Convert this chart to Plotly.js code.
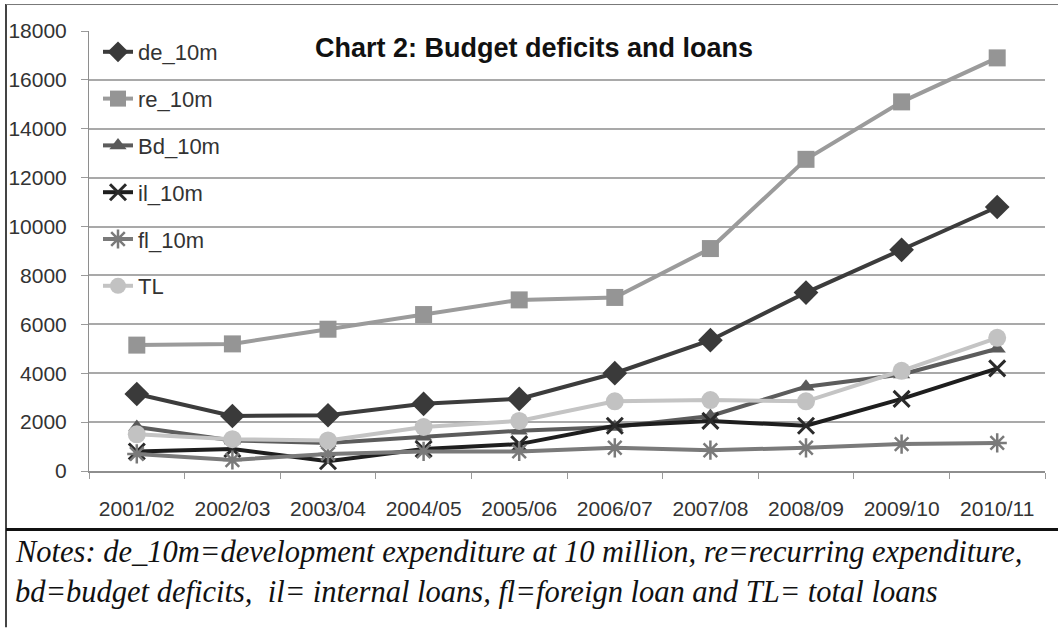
<!DOCTYPE html>
<html>
<head>
<meta charset="utf-8">
<script src="https://cdn.plot.ly/plotly-3.0.1.min.js"></script>
<style>html,body{margin:0;padding:0;background:#fff;}#chart{width:1058px;height:628px;}</style>
</head>
<body>
<div id="chart"></div>
<script>
const years = ["2001/02","2002/03","2003/04","2004/05","2005/06","2006/07","2007/08","2008/09","2009/10","2010/11"];
const de_10m = [3150, 2250, 2280, 2750, 2950, 4000, 5350, 7300, 9050, 10800];
const re_10m = [5150, 5200, 5800, 6400, 7000, 7100, 9100, 12750, 15100, 16900];
const bd_10m = [1800, 1250, 1150, 1400, 1650, 1800, 2250, 3450, 3950, 5000];
const il_10m = [800, 900, 400, 900, 1100, 1850, 2050, 1850, 2950, 4200];
const fl_10m = [700, 450, 700, 800, 800, 950, 850, 950, 1100, 1150];
const tl = [1500, 1300, 1250, 1800, 2050, 2850, 2900, 2850, 4100, 5450];
const seriesNames = ["de_10m","re_10m","Bd_10m","il_10m","fl_10m","TL"];

const W = 1058, H = 628;
const mL = 89, mR = 13, mT = 31, mB = 156.5;
const pw = W - mL - mR, ph = H - mT - mB;
const px = x => (x - mL) / pw;
const py = y => (H - mB - y) / ph;

const sans = "Liberation Sans, Arial, sans-serif";
const serif = "Liberation Serif, Times New Roman, serif";

function tr(name, y, color, symbol, msize, mcolor, mline, lw) {
  return {
    type: "scatter", mode: "lines+markers", x: years, y: y, name: name,
    legendgroup: name,
    line: {color: color, width: lw || 4},
    marker: {symbol: symbol, size: msize, color: mcolor || color,
             line: {color: mcolor || color, width: mline || 0}}
  };
}

const data = [
  tr(seriesNames[0], de_10m, "#3c3c3c", "diamond", 19, "#3a3a3a"),
  tr(seriesNames[1], re_10m, "#9b9b9b", "square", 17, "#959595"),
  tr(seriesNames[2], bd_10m, "#5c5c5c", "triangle-up", 15, "#5a5a5a"),
  tr(seriesNames[3], il_10m, "#1e1e1e", "x-thin-open", 16, "#2a2a2a", 3),
  tr(seriesNames[4], fl_10m, "#7a7a7a", "asterisk-open", 16, "#7a7a7a", 2.5),
  tr(seriesNames[5], tl, "#c4c4c4", "circle", 18, "#c2c2c2")
];

const layout = {
  width: W, height: H,
  margin: {l: mL, r: mR, t: mT, b: mB, pad: 0},
  paper_bgcolor: "#fff", plot_bgcolor: "#fff",
  font: {family: sans, color: "#333", size: 21},
  title: {
    text: "Chart 2: Budget deficits and loans",
    font: {family: sans, size: 27, color: "#111", weight: "bold"},
    x: 534 / W, xanchor: "center", xref: "container",
    y: 1 - 48 / H, yanchor: "middle", yref: "container"
  },
  showlegend: true,
  legend: {
    x: px(98), xanchor: "left", y: py(31), yanchor: "top",
    bgcolor: "rgba(0,0,0,0)", borderwidth: 0,
    font: {family: sans, size: 22, color: "#333"},
    tracegroupgap: 15.2, traceorder: "grouped", itemwidth: 30
  },
  xaxis: {
    type: "category", showgrid: false, zeroline: false,
    showline: true, linecolor: "#8e8e8e", linewidth: 2,
    ticks: "outside", tickson: "boundaries", ticklen: 6, tickcolor: "#9a9a9a", tickwidth: 1,
    tickfont: {family: sans, size: 21, color: "#333"}, tickangle: 0,
    ticklabelstandoff: 18,
    range: [-0.5, 9.5], fixedrange: true
  },
  yaxis: {
    range: [0, 18000], dtick: 2000, tick0: 0, tickformat: "d",
    showgrid: true, gridcolor: "#a9a9a9", gridwidth: 2,
    zeroline: false, showline: true, linecolor: "#8e8e8e", linewidth: 1,
    ticks: "outside", ticklen: 7, tickcolor: "#9a9a9a",
    tickfont: {family: sans, size: 21, color: "#333"},
    ticklabelstandoff: 10,
    fixedrange: true
  },
  shapes: [
    {type: "line", xref: "paper", yref: "paper", x0: px(6), x1: px(6), y0: py(4), y1: py(628), line: {color: "#444", width: 2}},
    {type: "line", xref: "paper", yref: "paper", x0: px(6), x1: px(1058), y0: py(4.5), y1: py(4.5), line: {color: "#777", width: 1}},
    {type: "line", xref: "paper", yref: "paper", x0: px(6), x1: px(1058), y0: py(530), y1: py(530), line: {color: "#111", width: 3}}
  ],
  annotations: [
    {xref: "paper", yref: "paper", x: px(13), y: py(553), xanchor: "left", yanchor: "middle", showarrow: false,
     text: "Notes: de_10m=development expenditure at 10 million, re=recurring expenditure,",
     font: {family: serif, size: 30.5, color: "#111", style: "italic"}},
    {xref: "paper", yref: "paper", x: px(13), y: py(593), xanchor: "left", yanchor: "middle", showarrow: false,
     text: "bd=budget deficits,&nbsp; il= internal loans, fl=foreign loan and TL= total loans",
     font: {family: serif, size: 30.5, color: "#111", style: "italic"}}
  ]
};

Plotly.newPlot("chart", data, layout, {displayModeBar: false, staticPlot: true});
</script>
</body>
</html>
